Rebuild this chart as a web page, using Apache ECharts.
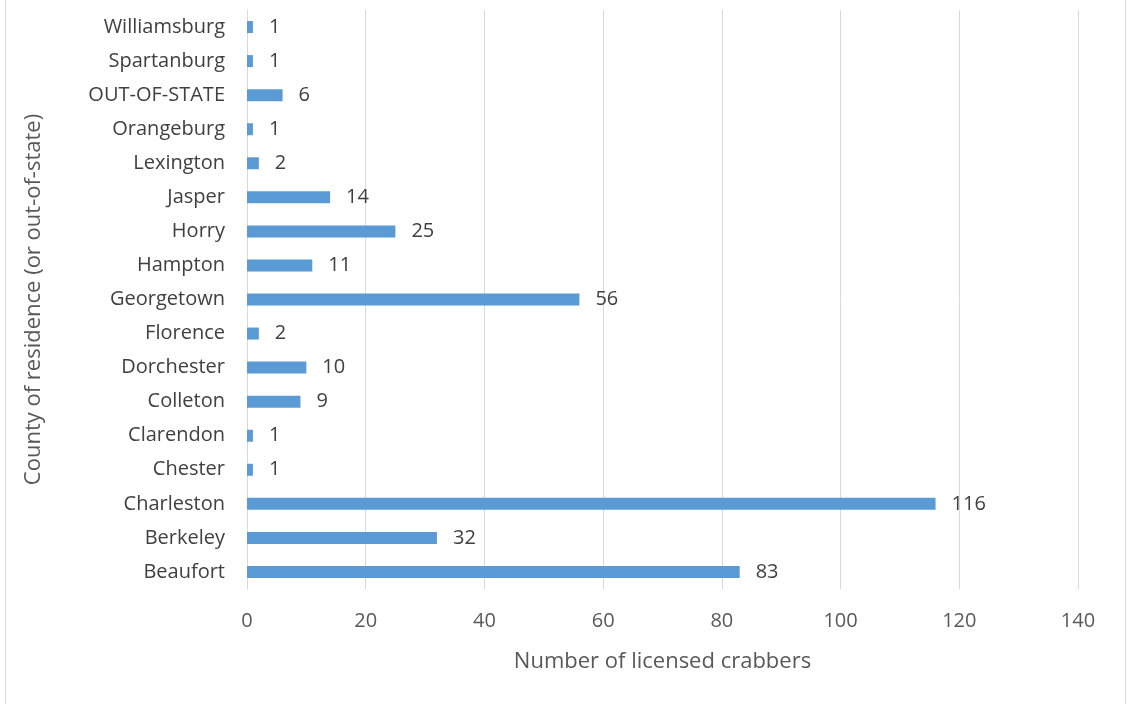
<!DOCTYPE html>
<html>
<head>
<meta charset="utf-8">
<script src="https://cdn.jsdelivr.net/npm/echarts@6/dist/echarts.min.js"></script>
<style>
  html, body { margin: 0; padding: 0; background: #fff; overflow: hidden; }
  #frame { position: absolute; left: 5px; top: -2px; width: 1121px; height: 710px; border: 1px solid #d9d9d9; box-sizing: border-box; }
  #chart { position: absolute; left: 0; top: 0; width: 1128px; height: 704px; }
</style>
</head>
<body>
<div id="frame"></div>
<div id="chart"></div>
<script>
// Counties listed bottom-to-top as they appear on the category axis
const counties = ['Beaufort', 'Berkeley', 'Charleston', 'Chester', 'Clarendon', 'Colleton',
  'Dorchester', 'Florence', 'Georgetown', 'Hampton', 'Horry', 'Jasper', 'Lexington',
  'Orangeburg', 'OUT-OF-STATE', 'Spartanburg', 'Williamsburg'];
const crabbers = [83, 32, 116, 1, 1, 9, 10, 2, 56, 11, 25, 14, 2, 1, 6, 1, 1];
const xTicks = { min: 0, max: 140, interval: 20 };

const font = '"Open Sans", "Liberation Sans", sans-serif';
const chart = echarts.init(document.getElementById('chart'), null, { renderer: 'canvas' });
chart.setOption({
  animation: false,
  grid: { left: 247, right: 50, top: 10, bottom: 115, containLabel: false },
  xAxis: {
    type: 'value',
    min: xTicks.min, max: xTicks.max, interval: xTicks.interval,
    name: 'Number of licensed crabbers',
    nameLocation: 'middle', nameGap: 62,
    nameTextStyle: { fontFamily: font, fontSize: 22, color: '#595959' },
    axisLine: { show: false },
    axisTick: { show: false },
    axisLabel: { fontFamily: font, fontSize: 20, color: '#595959', margin: 22 },
    splitLine: { lineStyle: { color: '#d9d9d9', width: 1 } }
  },
  yAxis: {
    type: 'category',
    data: counties,
    name: 'County of residence (or out-of-state)',
    nameLocation: 'middle', nameGap: 202, nameRotate: 90,
    nameTextStyle: { fontFamily: font, fontSize: 22, color: '#595959' },
    axisLine: { show: true, lineStyle: { color: '#d9d9d9' } },
    axisTick: { show: false },
    axisLabel: { fontFamily: font, fontSize: 20, color: '#404040', margin: 22 }
  },
  series: [{
    type: 'bar',
    data: crabbers,
    barWidth: 12,
    itemStyle: { color: '#5b9bd5' },
    label: {
      show: true, position: 'right', distance: 16,
      fontFamily: font, fontSize: 20, color: '#404040'
    }
  }]
});
</script>
</body>
</html>
